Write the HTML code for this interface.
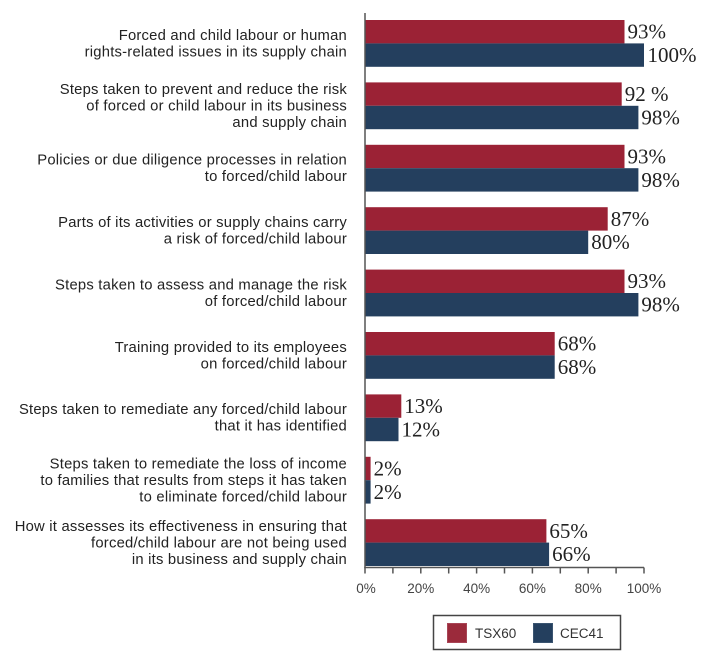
<!DOCTYPE html>
<html>
<head>
<meta charset="utf-8">
<style>
  html, body { margin: 0; padding: 0; background: #ffffff; }
  body { width: 708px; height: 664px; overflow: hidden; }
  svg { display: block; }
  .lbl { font-family: "Liberation Sans", Arial, sans-serif; font-size: 14.8px; fill: #222222; letter-spacing: 0.22px; }
  .val { font-family: "Liberation Serif", "Times New Roman", serif; font-size: 21px; fill: #222222; }
  .tick { font-family: "Liberation Sans", Arial, sans-serif; font-size: 13.5px; fill: #444444; }
  .leg { font-family: "Liberation Sans", Arial, sans-serif; font-size: 13.5px; fill: #333333; }
</style>
</head>
<body>
<svg width="708" height="664" viewBox="0 0 708 664" xmlns="http://www.w3.org/2000/svg">
  <g>
    <rect x="365" y="20" width="259.5" height="23.4" fill="#9b2235"/>
    <rect x="365" y="43.4" width="279" height="23.4" fill="#243f5e"/>
    <rect x="365" y="82.4" width="256.7" height="23.4" fill="#9b2235"/>
    <rect x="365" y="105.8" width="273.4" height="23.4" fill="#243f5e"/>
    <rect x="365" y="144.8" width="259.5" height="23.4" fill="#9b2235"/>
    <rect x="365" y="168.2" width="273.4" height="23.4" fill="#243f5e"/>
    <rect x="365" y="207.2" width="242.7" height="23.4" fill="#9b2235"/>
    <rect x="365" y="230.6" width="223.2" height="23.4" fill="#243f5e"/>
    <rect x="365" y="269.6" width="259.5" height="23.4" fill="#9b2235"/>
    <rect x="365" y="293" width="273.4" height="23.4" fill="#243f5e"/>
    <rect x="365" y="332" width="189.7" height="23.4" fill="#9b2235"/>
    <rect x="365" y="355.4" width="189.7" height="23.4" fill="#243f5e"/>
    <rect x="365" y="394.4" width="36.3" height="23.4" fill="#9b2235"/>
    <rect x="365" y="417.8" width="33.5" height="23.4" fill="#243f5e"/>
    <rect x="365" y="456.8" width="5.6" height="23.4" fill="#9b2235"/>
    <rect x="365" y="480.2" width="5.6" height="23.4" fill="#243f5e"/>
    <rect x="365" y="519.2" width="181.4" height="23.4" fill="#9b2235"/>
    <rect x="365" y="542.6" width="184.1" height="23.4" fill="#243f5e"/>
  </g>

  <g class="val">
    <text x="627.5" y="38.6">93%</text>
    <text x="647.5" y="62">100%</text>
    <text x="624.7" y="101">92 %</text>
    <text x="641.4" y="124.4">98%</text>
    <text x="627.5" y="163.4">93%</text>
    <text x="641.4" y="186.8">98%</text>
    <text x="610.7" y="225.8">87%</text>
    <text x="591.2" y="249.2">80%</text>
    <text x="627.5" y="288.2">93%</text>
    <text x="641.4" y="311.6">98%</text>
    <text x="557.7" y="350.6">68%</text>
    <text x="557.7" y="374">68%</text>
    <text x="404.3" y="413">13%</text>
    <text x="401.5" y="436.4">12%</text>
    <text x="373.6" y="475.4">2%</text>
    <text x="373.6" y="498.8">2%</text>
    <text x="549.4" y="537.8">65%</text>
    <text x="552.1" y="561.2">66%</text>
  </g>

  <g class="lbl" text-anchor="end">
    <text x="347" y="39.8">Forced and child labour or human</text>
    <text x="347" y="56.3">rights-related issues in its supply chain</text>

    <text x="347" y="94">Steps taken to prevent and reduce the risk</text>
    <text x="347" y="110.5">of forced or child labour in its business</text>
    <text x="347" y="127">and supply chain</text>

    <text x="347" y="164.6">Policies or due diligence processes in relation</text>
    <text x="347" y="181.1">to forced/child labour</text>

    <text x="347" y="227">Parts of its activities or supply chains carry</text>
    <text x="347" y="243.5">a risk of forced/child labour</text>

    <text x="347" y="289.4">Steps taken to assess and manage the risk</text>
    <text x="347" y="305.9">of forced/child labour</text>

    <text x="347" y="351.8">Training provided to its employees</text>
    <text x="347" y="368.3">on forced/child labour</text>

    <text x="347" y="414.2">Steps taken to remediate any forced/child labour</text>
    <text x="347" y="430.7">that it has identified</text>

    <text x="347" y="468.4">Steps taken to remediate the loss of income</text>
    <text x="347" y="484.9">to families that results from steps it has taken</text>
    <text x="347" y="501.4">to eliminate forced/child labour</text>

    <text x="347" y="530.8">How it assesses its effectiveness in ensuring that</text>
    <text x="347" y="547.3">forced/child labour are not being used</text>
    <text x="347" y="563.8">in its business and supply chain</text>
  </g>

  <g stroke="#555555" stroke-width="1.5" fill="none">
    <line x1="365" y1="13" x2="365" y2="568"/>
    <line x1="364.25" y1="567.5" x2="644" y2="567.5"/>
    <line x1="365" y1="567.5" x2="365" y2="573.5"/>
    <line x1="392.9" y1="567.5" x2="392.9" y2="573.5"/>
    <line x1="420.8" y1="567.5" x2="420.8" y2="573.5"/>
    <line x1="448.7" y1="567.5" x2="448.7" y2="573.5"/>
    <line x1="476.6" y1="567.5" x2="476.6" y2="573.5"/>
    <line x1="504.5" y1="567.5" x2="504.5" y2="573.5"/>
    <line x1="532.4" y1="567.5" x2="532.4" y2="573.5"/>
    <line x1="560.3" y1="567.5" x2="560.3" y2="573.5"/>
    <line x1="588.2" y1="567.5" x2="588.2" y2="573.5"/>
    <line x1="616.1" y1="567.5" x2="616.1" y2="573.5"/>
    <line x1="644" y1="567.5" x2="644" y2="573.5"/>
  </g>
  <g class="tick" text-anchor="middle">
    <text x="366" y="593">0%</text>
    <text x="420.8" y="593">20%</text>
    <text x="476.6" y="593">40%</text>
    <text x="532.4" y="593">60%</text>
    <text x="588.2" y="593">80%</text>
    <text x="644" y="593">100%</text>
  </g>

  <rect x="433.5" y="615.5" width="187" height="34" fill="#ffffff" stroke="#444444" stroke-width="1.5"/>
  <rect x="447.5" y="623.5" width="19" height="19" fill="#9b2a3b" stroke="#a84556" stroke-width="1"/>
  <text class="leg" x="475" y="638">TSX60</text>
  <rect x="533.5" y="623.5" width="19" height="19" fill="#243f5e" stroke="#3a5470" stroke-width="1"/>
  <text class="leg" x="560" y="638">CEC41</text>
</svg>
</body>
</html>
